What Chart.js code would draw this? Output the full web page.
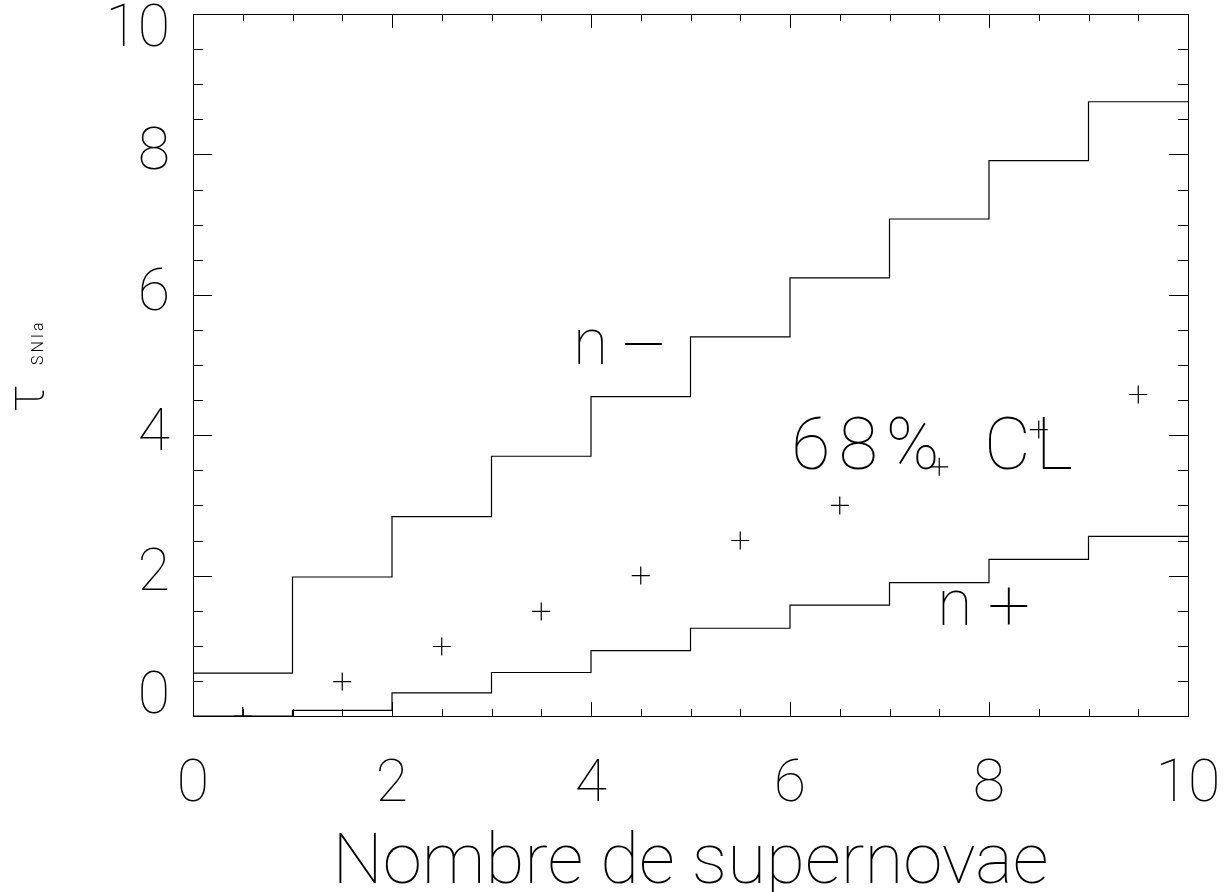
<!DOCTYPE html>
<html>
<head>
<meta charset="utf-8">
<script src="https://cdn.jsdelivr.net/npm/chart.js@4/dist/chart.umd.min.js"></script>
<style>
  html, body { margin: 0; padding: 0; background: #fff; }
  #wrap { width: 1225px; height: 892px; }
</style>
</head>
<body>
<div id="wrap"><canvas id="c" width="1225" height="892"></canvas></div>
<script>
// bin edges (number of supernovae) and 68% CL limits per bin
const nEdges = [0, 1, 2, 3, 4, 5, 6, 7, 8, 9, 10];
const nMinus = [0.61, 1.98, 2.84, 3.70, 4.55, 5.40, 6.24, 7.08, 7.91, 8.75];
const nPlus = [0.00, 0.08, 0.33, 0.62, 0.93, 1.25, 1.58, 1.90, 2.23, 2.56];
// central estimates at bin middles
const nMid = [0.5, 1.5, 2.5, 3.5, 4.5, 5.5, 6.5, 7.5, 8.5, 9.5];
const tauMid = [0.00, 0.49, 0.99, 1.49, 2.00, 2.50, 3.00, 3.55, 4.08, 4.58];
const xTickLabels = ['0', '2', '4', '6', '8', '10'];
const yTickLabels = ['0', '2', '4', '6', '8', '10'];

const FONT = 'Roboto, "Noto Sans", sans-serif';
const SYM_FONT = '"Noto Sans", Roboto, sans-serif';

function stepPoints(vals) {
  return nEdges.map((x, i) => ({ x: x, y: vals[Math.min(i, vals.length - 1)] }));
}

// draw text so its ink box starts at (left) and sits on (bottom)
function inkText(ctx, txt, left, bottom) {
  const m = ctx.measureText(txt);
  ctx.fillText(txt, left + m.actualBoundingBoxLeft, bottom - m.actualBoundingBoxDescent);
}

// inward ticks on all four sides, full frame, annotations
const frame = {
  id: 'frame',
  afterDatasetsDraw(chart) {
    const { ctx, chartArea: a, scales } = chart;
    const X = scales.x, Y = scales.y;
    ctx.save();
    ctx.strokeStyle = '#000';
    ctx.lineWidth = 1;
    ctx.strokeRect(a.left + 0.5, a.top + 0.5, a.right - a.left, a.bottom - a.top);
    ctx.beginPath();
    X.ticks.forEach(t => {
      const px = Math.round(X.getPixelForValue(t.value)) + 0.5;
      const len = t.value % 2 === 0 ? 14 : 7;
      ctx.moveTo(px, a.bottom); ctx.lineTo(px, a.bottom - len);
      ctx.moveTo(px, a.top); ctx.lineTo(px, a.top + len);
    });
    Y.ticks.forEach(t => {
      const py = Math.round(Y.getPixelForValue(t.value)) + 0.5;
      const len = t.value % 2 === 0 ? 19 : 10;
      ctx.moveTo(a.left, py); ctx.lineTo(a.left + len, py);
      ctx.moveTo(a.right, py); ctx.lineTo(a.right - len, py);
    });
    ctx.stroke();

    ctx.fillStyle = '#000';
    ctx.textBaseline = 'alphabetic';
    ctx.font = '100 64px ' + FONT;
    inkText(ctx, 'n', X.getPixelForValue(3.87), Y.getPixelForValue(5.01));
    inkText(ctx, 'n', X.getPixelForValue(7.53), Y.getPixelForValue(1.29));
    ctx.font = '100 80px ' + SYM_FONT;
    const m = ctx.measureText('\u2212');
    ctx.fillText('\u2212', X.getPixelForValue(4.34) + m.actualBoundingBoxLeft,
      Y.getPixelForValue(5.30) + (m.actualBoundingBoxAscent - m.actualBoundingBoxDescent) / 2);
    inkText(ctx, '+', X.getPixelForValue(8.01), Y.getPixelForValue(1.29));
    ctx.font = '100 72px ' + FONT;
    ctx.letterSpacing = '8px';
    inkText(ctx, '68%', X.getPixelForValue(6.05), Y.getPixelForValue(3.50));
    ctx.letterSpacing = '5px';
    inkText(ctx, 'CL', X.getPixelForValue(8.0), Y.getPixelForValue(3.50));
    ctx.letterSpacing = '0px';

    // y axis title: tau_SNIa, rotated
    ctx.translate(43, 412);
    ctx.rotate(-Math.PI / 2);
    ctx.font = '100 54px ' + FONT;
    ctx.fillText('\u03C4', 0, 0);
    ctx.font = '300 16px ' + FONT;
    ctx.letterSpacing = '3px';
    ctx.fillText('SNIa', 47, 0);
    ctx.restore();
  }
};

new Chart(document.getElementById('c'), {
  type: 'scatter',
  data: {
    datasets: [
      {
        label: 'n-',
        data: stepPoints(nMinus),
        showLine: true,
        stepped: 'before',
        borderColor: '#000',
        borderWidth: 1.2,
        pointRadius: 0
      },
      {
        label: 'n+',
        data: stepPoints(nPlus),
        showLine: true,
        stepped: 'before',
        borderColor: '#000',
        borderWidth: 1.2,
        pointRadius: 0
      },
      {
        label: 'tau',
        data: nMid.map((x, i) => ({ x: x, y: tauMid[i] })),
        pointStyle: 'cross',
        pointRadius: 9,
        borderColor: '#000',
        borderWidth: 1.2,
        backgroundColor: '#000'
      }
    ]
  },
  options: {
    responsive: false,
    animation: false,
    layout: { padding: { top: 14, right: 37, left: 0, bottom: 0 } },
    plugins: { legend: { display: false }, tooltip: { enabled: false } },
    scales: {
      x: {
        type: 'linear', min: 0, max: 10,
        border: { display: false },
        grid: { display: false, drawTicks: false },
        ticks: {
          stepSize: 0.5, autoSkip: false, maxRotation: 0, padding: 35,
          color: '#000',
          font: { family: FONT, size: 59, weight: 100 },
          callback: v => xTickLabels.includes(String(v)) ? String(v) : ''
        },
        title: {
          display: true, text: 'Nombre de supernovae', color: '#000',
          font: { family: FONT, size: 71, weight: 100, lineHeight: 0.75 },
          padding: { top: 0, bottom: 0 }
        },
        afterFit(s) { s.height = 176; s.paddingLeft = 0; s.paddingRight = 0; }
      },
      y: {
        type: 'linear', min: 0, max: 10,
        border: { display: false },
        grid: { display: false, drawTicks: false },
        ticks: {
          stepSize: 0.5, autoSkip: false, padding: 23,
          color: '#000',
          font: { family: FONT, size: 59, weight: 100, lineHeight: 0.6 },
          callback: v => {
            const s = String(v);
            if (!yTickLabels.includes(s)) return '';
            if (v === 10) return ['', s];
            if (v === 0) return [s, ''];
            return s;
          }
        },
        afterFit(s) { s.width = 193; s.paddingTop = 0; s.paddingBottom = 0; }
      }
    }
  },
  plugins: [frame]
});
</script>
</body>
</html>
